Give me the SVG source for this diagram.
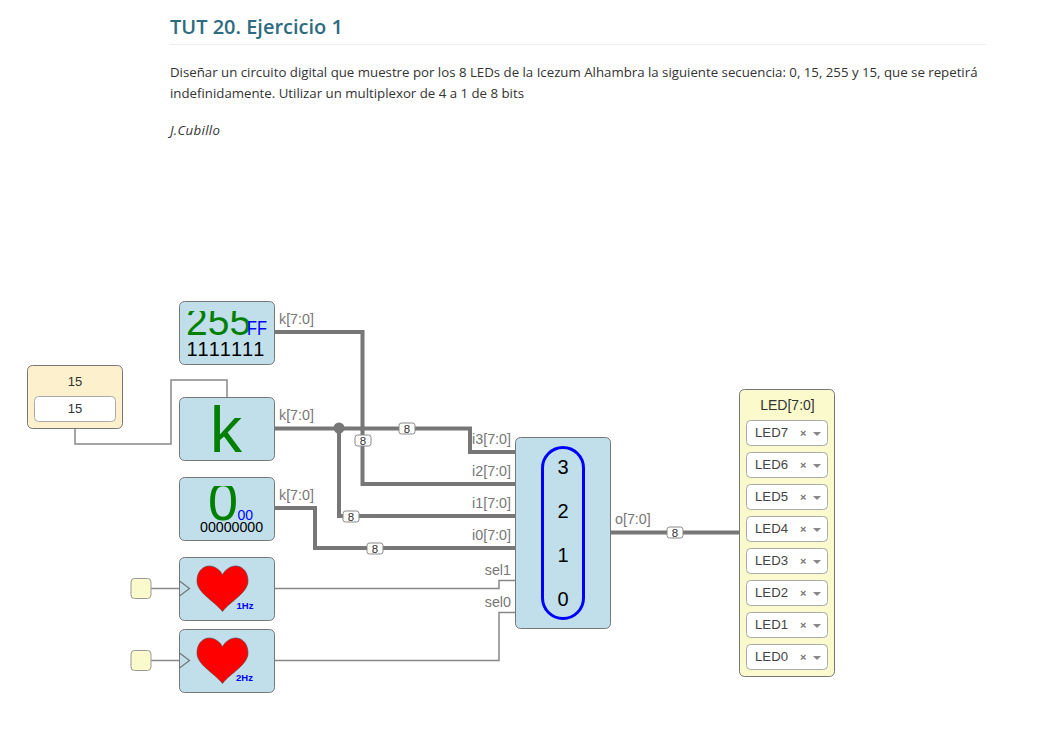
<svg xmlns="http://www.w3.org/2000/svg" width="1045" height="743" viewBox="0 0 1045 743">
<style>
text{font-family:"Liberation Sans",Arial,sans-serif;font-kerning:none}
.doc{font-family:"Open Sans","Noto Sans",sans-serif;font-size:13.25px;fill:#333;font-kerning:auto}
.box{fill:#c0dfeb;stroke:#777;stroke-width:1}
.yel{fill:#fafacd;stroke:#777;stroke-width:1}
.bus{fill:none;stroke:#777;stroke-width:4}
.wire{fill:none;stroke:#888;stroke-width:1.5}
.pin{font-size:14.300px;fill:#777}
.pinr{font-size:14.300px;fill:#777;text-anchor:end}
.size{fill:#fff;stroke:#888;stroke-width:1}
.sizet{font-size:11.500px;fill:#333;text-anchor:middle}
.sel{fill:#fff;stroke:#aaa;stroke-width:1}
.ledt{font-size:13.200px;fill:#444}
.x{font-size:11px;fill:#777;font-weight:bold}
.car{fill:#888}
.heart{fill:#f00;stroke:#444;stroke-width:.6}
.hz{font-size:9.500px;font-weight:bold;fill:#00f}
.dig{font-size:20px;fill:#000;text-anchor:middle}
.tri{fill:none;stroke:#777;stroke-width:1.300}
</style>
<defs>
<clipPath id="c255"><rect x="180" y="311" width="94" height="53"/></clipPath>
<clipPath id="c0"><rect x="180" y="486" width="94" height="54"/></clipPath>
<path id="h" d="M0,0C-2,-5-8,-9-13,-9C-21,-9-25.500,-2-25.500,6C-25.500,18-8,26 0,36.500C8,26 25.500,18 25.500,6C25.500,-2 21,-9 13,-9C8,-9 2,-5 0,0Z"/>
<path id="car" d="M0,0h8l-4,4z"/>
</defs>
<rect width="1045" height="743" fill="#fff"/>
<g id="doc">
<text x="170" y="34" style="font-family:'Open Sans','Noto Sans',sans-serif;font-size:20px;font-weight:600;fill:#2e6b80;font-kerning:auto">TUT 20. Ejercicio 1</text>
<rect x="170" y="44" width="816" height="1" fill="#eee"/>
<text class="doc" x="170" y="77" textLength="807.500">Diseñar un circuito digital que muestre por los 8 LEDs de la Icezum Alhambra la siguiente secuencia: 0, 15, 255 y 15, que se repetirá</text>
<text class="doc" x="170" y="98" textLength="354">indefinidamente. Utilizar un multiplexor de 4 a 1 de 8 bits</text>
<text class="doc" x="170" y="135" font-style="italic" textLength="50">J.Cubillo</text>
</g>
<g id="connectors">
<path class="wire" d="M75,429V444H171V380H227V397"/>
<path class="bus" d="M275,332H362.500V484H515"/>
<path class="bus" d="M275,428.500H470V452H515"/>
<path class="bus" d="M339,428.500V516H515"/>
<path class="bus" d="M275,508H315V548H515"/>
<path class="bus" d="M611,532.500H739"/>
<path class="wire" d="M275,588.500H499V580.500H515"/>
<path class="wire" d="M275,660.500H499V612.500H515"/>
<path class="wire" d="M151,588.500H179"/>
<path class="wire" d="M151,660.500H179"/>
<circle cx="339" cy="428" r="5.500" fill="#777"/>
<g id="bus-sizes">
<rect class="size" x="399" y="423" width="16" height="11" rx="2.500"/><text class="sizet" x="407" y="432.500">8</text>
<rect class="size" x="355" y="435" width="16" height="11" rx="2.500"/><text class="sizet" x="363" y="444.500">8</text>
<rect class="size" x="343" y="511" width="16" height="11" rx="2.500"/><text class="sizet" x="351" y="520.500">8</text>
<rect class="size" x="367" y="543" width="16" height="11" rx="2.500"/><text class="sizet" x="375" y="552.500">8</text>
<rect class="size" x="667" y="527" width="16" height="11" rx="2.500"/><text class="sizet" x="675" y="536.500">8</text>
</g>
</g>
<g id="const15">
<rect x="27.500" y="365.500" width="95" height="63" rx="5" fill="#fcf0cd" stroke="#777"/>
<text x="75" y="386" font-size="13" fill="#333" text-anchor="middle">15</text>
<rect x="34.500" y="396.500" width="81" height="25" rx="4" fill="#fff" stroke="#aaa"/>
<text x="75" y="413" font-size="13" fill="#333" text-anchor="middle">15</text>
</g>
<g id="k255">
<rect class="box" x="179.500" y="301.500" width="95" height="63" rx="5"/>
<text x="186" y="335" font-size="39" fill="#008000" clip-path="url(#c255)">255</text>
<text x="247" y="335" font-size="20" fill="#00f" textLength="20" lengthAdjust="spacingAndGlyphs">FF</text>
<text x="186.500" y="356" font-size="20" fill="#000">1111111</text>
<text class="pin" x="279" y="324">k[7:0]</text>
</g>
<g id="k">
<rect class="box" x="179.500" y="397.500" width="95" height="63" rx="5"/>
<text x="226" y="452" font-size="64" fill="#008000" text-anchor="middle">k</text>
<text class="pin" x="279" y="420">k[7:0]</text>
</g>
<g id="k0">
<rect class="box" x="179.500" y="477.500" width="95" height="63" rx="5"/>
<text x="223" y="520" font-size="54" fill="#008000" text-anchor="middle" clip-path="url(#c0)">0</text>
<text x="237.500" y="520" font-size="14" fill="#00f">00</text>
<text x="200" y="532" font-size="14.200" fill="#000">00000000</text>
<text class="pin" x="279" y="500">k[7:0]</text>
</g>
<g id="clk1">
<rect class="box" x="179.500" y="557.500" width="95" height="63" rx="5"/>
<path class="tri" d="M179.500,581L189.500,588.500L179.500,596"/>
<use href="#h" x="222.500" y="575" class="heart"/>
<text class="hz" x="236.500" y="609">1Hz</text>
</g>
<g id="clk2">
<rect class="box" x="179.500" y="629.500" width="95" height="63" rx="5"/>
<path class="tri" d="M179.500,653L189.500,660.500L179.500,668"/>
<use href="#h" x="222.500" y="647" class="heart"/>
<text class="hz" x="236" y="681">2Hz</text>
</g>
<g id="in1"><rect x="131" y="578.500" width="20" height="20" rx="3.500" fill="#fafacd" stroke="#999" stroke-width="1"/></g>
<g id="in2"><rect x="131" y="650.500" width="20" height="20" rx="3.500" fill="#fafacd" stroke="#999" stroke-width="1"/></g>
<g id="mux">
<rect class="box" x="515.500" y="437.500" width="95" height="191" rx="5"/>
<rect x="542.500" y="447.500" width="41" height="171" rx="20.500" fill="none" stroke="#00f" stroke-width="3"/>
<text class="dig" x="563" y="474">3</text>
<text class="dig" x="563" y="518">2</text>
<text class="dig" x="563" y="562">1</text>
<text class="dig" x="563" y="606">0</text>
<text class="pinr" x="511" y="444">i3[7:0]</text>
<text class="pinr" x="511" y="476">i2[7:0]</text>
<text class="pinr" x="511" y="508">i1[7:0]</text>
<text class="pinr" x="511" y="540">i0[7:0]</text>
<text class="pinr" x="511" y="575">sel1</text>
<text class="pinr" x="511" y="607">sel0</text>
<text class="pin" x="615" y="524">o[7:0]</text>
</g>
<g id="leds">
<rect class="yel" x="739.500" y="389.500" width="95" height="287" rx="5"/>
<text x="787.500" y="410" font-size="14" fill="#333" text-anchor="middle">LED[7:0]</text>
<g id="led7"><rect class="sel" x="746.500" y="420.500" width="81" height="25" rx="4"/><text class="ledt" x="755" y="437">LED7</text><text class="x" x="800" y="437">×</text><use href="#car" class="car" x="813" y="432"/></g>
<g id="led6"><rect class="sel" x="746.500" y="452.500" width="81" height="25" rx="4"/><text class="ledt" x="755" y="469">LED6</text><text class="x" x="800" y="469">×</text><use href="#car" class="car" x="813" y="464"/></g>
<g id="led5"><rect class="sel" x="746.500" y="484.500" width="81" height="25" rx="4"/><text class="ledt" x="755" y="501">LED5</text><text class="x" x="800" y="501">×</text><use href="#car" class="car" x="813" y="496"/></g>
<g id="led4"><rect class="sel" x="746.500" y="516.500" width="81" height="25" rx="4"/><text class="ledt" x="755" y="533">LED4</text><text class="x" x="800" y="533">×</text><use href="#car" class="car" x="813" y="528"/></g>
<g id="led3"><rect class="sel" x="746.500" y="548.500" width="81" height="25" rx="4"/><text class="ledt" x="755" y="565">LED3</text><text class="x" x="800" y="565">×</text><use href="#car" class="car" x="813" y="560"/></g>
<g id="led2"><rect class="sel" x="746.500" y="580.500" width="81" height="25" rx="4"/><text class="ledt" x="755" y="597">LED2</text><text class="x" x="800" y="597">×</text><use href="#car" class="car" x="813" y="592"/></g>
<g id="led1"><rect class="sel" x="746.500" y="612.500" width="81" height="25" rx="4"/><text class="ledt" x="755" y="629">LED1</text><text class="x" x="800" y="629">×</text><use href="#car" class="car" x="813" y="624"/></g>
<g id="led0"><rect class="sel" x="746.500" y="644.500" width="81" height="25" rx="4"/><text class="ledt" x="755" y="661">LED0</text><text class="x" x="800" y="661">×</text><use href="#car" class="car" x="813" y="656"/></g>
</g>
</svg>
